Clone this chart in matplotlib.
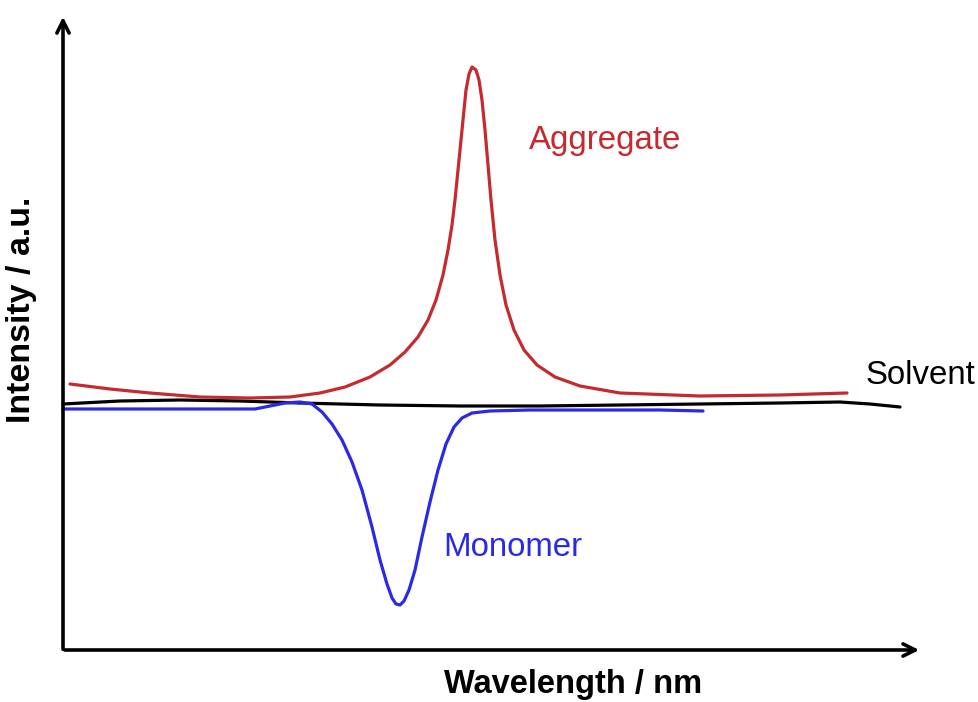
import matplotlib.pyplot as plt

plt.rcParams['font.family'] = ['Liberation Sans', 'DejaVu Sans']

# curves (x = wavelength, y = intensity, arbitrary units)
agg_x = [70, 110, 150, 200, 250, 290, 320, 345, 370, 390, 405, 418, 428, 436, 443, 448,
         452, 455, 458, 461, 464, 466, 469, 472, 476, 479, 482, 485, 488, 491, 495, 500,
         506, 514, 524, 537, 555, 580, 620, 700, 780, 847]
agg_y = [318, 313, 309, 305, 304, 305, 309, 315, 325, 337, 350, 365, 382, 402, 427, 452,
         477, 502, 532, 562, 592, 612, 628, 635, 632, 622, 602, 572, 537, 502, 462, 427,
         397, 372, 352, 337, 325, 316, 309, 306, 307, 309]

solv_x = [63, 120, 180, 240, 300, 380, 460, 540, 620, 700, 780, 840, 870, 900]
solv_y = [298, 301, 302, 301, 299, 297, 296, 296, 297, 298, 299, 300, 298, 295]

mono_x = [63, 120, 180, 230, 255, 270, 285, 300, 312, 322, 332, 342, 352, 362, 372, 380,
          387, 392, 396, 400, 404, 409, 415, 422, 430, 438, 446, 454, 462, 472, 490, 530,
          600, 660, 703]
mono_y = [293, 293, 293, 293, 293, 296, 299, 300, 298, 290, 278, 262, 240, 212, 175, 142,
          118, 104, 98, 97, 101, 112, 132, 165, 200, 232, 258, 275, 284, 289, 291, 292,
          292, 292, 291]

fig = plt.figure(figsize=(9.79, 7.02), dpi=100)
ax = fig.add_axes([0, 0, 1, 1])
ax.set_xlim(0, 979)
ax.set_ylim(0, 702)
ax.axis('off')

# axes with arrows
ax.annotate('', xy=(63, 688), xytext=(63, 50),
            arrowprops=dict(arrowstyle='->', lw=2.6, color='black', mutation_scale=22))
ax.annotate('', xy=(922, 52), xytext=(62, 52),
            arrowprops=dict(arrowstyle='->', lw=2.6, color='black', mutation_scale=22))

ax.plot(solv_x, solv_y, color='black', lw=2.3, solid_capstyle='round')
ax.plot(agg_x, agg_y, color='#C52A2F', lw=2.3, solid_capstyle='round')
ax.plot(mono_x, mono_y, color='#2A2AE6', lw=2.3, solid_capstyle='round')

ax.text(605, 561, 'Aggregate', color='#C52A2F', fontsize=23.8, ha='center', va='center')
ax.text(513, 154, 'Monomer', color='#2A2AE6', fontsize=23.8, ha='center', va='center')
ax.text(866, 327, 'Solvent', color='black', fontsize=23.8, ha='left', va='center')

ax.text(573, 18, 'Wavelength / nm', fontsize=23.5, fontweight='bold', ha='center', va='center')
ax.text(22, 392, 'Intensity / a.u.', fontsize=24.5, fontweight='bold', rotation=90,
        ha='center', va='center')

fig.savefig('out.png', dpi=100)
